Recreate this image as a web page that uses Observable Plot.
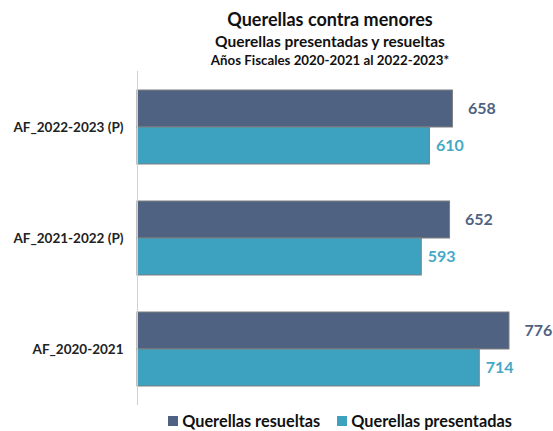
<!DOCTYPE html>
<html>
<head>
<meta charset="utf-8">
<script src="https://cdn.jsdelivr.net/npm/d3@7"></script>
<script src="https://cdn.jsdelivr.net/npm/@observablehq/plot@0.6"></script>
<style>
  html, body { margin: 0; padding: 0; background: #fff; }
  #wrap { position: relative; width: 553px; height: 431px; overflow: hidden; font-family: Lato, "Open Sans", sans-serif; }
  .t { position: absolute; left: 0; width: 660px; text-align: center; font-weight: bold; color: #111; white-space: nowrap; line-height: 1.2; }
  #t1 { top: 9px; font-size: 18px; }
  #t2 { top: 32px; font-size: 15.5px; }
  #t3 { top: 53px; font-size: 13.3px; }
  #chart { position: absolute; left: 0; top: 0; }
  #legend { position: absolute; left: 0; width: 680px; top: 411px; display: flex; justify-content: center; gap: 17px; font-size: 16.3px; font-weight: bold; color: #111; white-space: nowrap; line-height: 1.2; }
  .item { display: flex; align-items: center; gap: 4px; }
  .sw { width: 10px; height: 10px; display: inline-block; }
</style>
</head>
<body>
<div id="wrap">
  <div id="chart"></div>
  <div class="t" id="t1">Querellas contra menores</div>
  <div class="t" id="t2">Querellas presentadas y resueltas</div>
  <div class="t" id="t3">Años Fiscales 2020-2021 al 2022-2023*</div>
  <div id="legend"></div>
</div>
<script>
const years = ["AF_2022-2023 (P)", "AF_2021-2022 (P)", "AF_2020-2021"];
const series = ["Querellas resueltas", "Querellas presentadas"];
const resueltas = [658, 652, 776];
const presentadas = [610, 593, 714];
const colors = ["#4f6282", "#3ca2bf"];
const labelColors = ["#4f6282", "#45a9c6"];

const data = [];
years.forEach((y, i) => {
  data.push({year: y, serie: series[0], value: resueltas[i]});
  data.push({year: y, serie: series[1], value: presentadas[i]});
});

const chart = Plot.plot({
  width: 553,
  height: 431,
  marginLeft: 137,
  marginRight: 44,
  marginTop: 70,
  marginBottom: 24,
  style: {fontFamily: "Lato, 'Open Sans', sans-serif", background: "transparent"},
  x: {axis: null},
  y: {domain: series, axis: null, padding: 0},
  fy: {domain: years, paddingInner: 0.33, paddingOuter: 0.17, label: null},
  color: {domain: series, range: colors},
  marks: [
    Plot.axisFy({anchor: "left", tickSize: 0, tickPadding: 14, fontSize: 13.5, fontWeight: "bold", fill: "#222", label: null}),
    Plot.barX(data, {fy: "year", y: "serie", x: "value", fill: "serie", stroke: "#7f7f7f", strokeWidth: 1}),
    Plot.ruleX([0], {stroke: "#d0d0d0", strokeWidth: 1, insetTop: -19, insetBottom: -19}),
    Plot.text(data.filter(d => d.serie === series[0]), {fy: "year", y: "serie", x: "value", text: d => String(d.value), textAnchor: "start", dx: 15, fill: labelColors[0], fontSize: 16, fontWeight: "bold"}),
    Plot.text(data.filter(d => d.serie === series[1]), {fy: "year", y: "serie", x: "value", text: d => String(d.value), textAnchor: "start", dx: 6, fill: labelColors[1], fontSize: 16, fontWeight: "bold"})
  ]
});
document.getElementById("chart").appendChild(chart);

const legend = document.getElementById("legend");
series.forEach((s, i) => {
  const it = document.createElement("div");
  it.className = "item";
  const sw = document.createElement("span");
  sw.className = "sw";
  sw.style.background = colors[i];
  it.appendChild(sw);
  const tx = document.createElement("span");
  tx.textContent = s;
  it.appendChild(tx);
  legend.appendChild(it);
});
</script>
</body>
</html>
